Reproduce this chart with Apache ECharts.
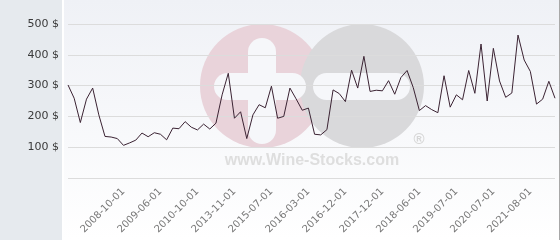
<!DOCTYPE html>
<html><head><meta charset="utf-8">
<script src="https://cdn.jsdelivr.net/npm/echarts@6/dist/echarts.min.js"></script>
<style>html,body{margin:0;padding:0;background:#fff}#c{width:560px;height:240px}</style>
</head><body><div id="c"></div>
<script>
const dates = [
 '2005-10-01','2006-03-01','2006-07-01','2006-12-01','2007-04-01','2007-09-01','2007-12-01','2008-03-01','2008-06-01','2008-10-01',
 '2008-11-01','2008-12-01','2009-02-01','2009-03-01','2009-04-01','2009-06-01','2009-08-01','2009-10-01','2009-12-01','2010-03-01',
 '2010-06-01','2010-10-01','2011-03-01','2011-09-01','2012-03-01','2012-09-01','2013-05-01','2013-11-01','2014-02-01','2014-05-01',
 '2014-09-01','2014-12-01','2015-04-01','2015-07-01','2015-08-01','2015-09-01','2015-11-01','2015-12-01','2016-02-01','2016-03-01',
 '2016-04-01','2016-06-01','2016-07-01','2016-09-01','2016-10-01','2016-12-01','2017-02-01','2017-04-01','2017-06-01','2017-08-01',
 '2017-10-01','2017-12-01','2018-01-01','2018-02-01','2018-03-01','2018-04-01','2018-05-01','2018-06-01','2018-08-01','2018-10-01',
 '2018-12-01','2019-02-01','2019-04-01','2019-07-01','2019-09-01','2019-11-01','2020-01-01','2020-03-01','2020-05-01','2020-07-01',
 '2020-09-01','2020-11-01','2021-01-01','2021-03-01','2021-05-01','2021-08-01','2021-10-01','2021-12-01','2022-02-01','2022-04-01'
];
const prices = [
 302,259,180,256,292,205,135,133,128,106,
 114,123,146,134,147,142,124,162,160,183,
 165,156,175,159,178,270,340,194,215,128,
 205,238,228,298,194,200,292,257,220,227,
 142,140,157,286,274,248,350,292,395,281,
 285,283,316,272,326,349,294,219,235,222,
 212,332,230,270,254,349,275,435,250,421,
 315,262,276,464,383,346,240,256,314,259
];
const tickLabels = ['2008-10-01','2009-06-01','2010-10-01','2013-11-01','2015-07-01','2016-03-01',
 '2016-12-01','2017-12-01','2018-06-01','2019-07-01','2020-07-01','2021-08-01'];
const yMin = 0, yMax = 500, yStep = 100;

const chart = echarts.init(document.getElementById('c'), null, {renderer:'canvas'});
const wm = [
  {type:'rect', z:-20, shape:{x:0,y:0,width:62,height:240}, style:{fill:'#e6eaee'}},
  {type:'rect', z:-20, shape:{x:64,y:0,width:495,height:240},
   style:{fill:new echarts.graphic.LinearGradient(0,0,0,1,[{offset:0,color:'#eff1f6'},{offset:1,color:'#ffffff'}])}},
  {type:'rect', z:-20, shape:{x:559,y:0,width:1,height:240}, style:{fill:'#a8a8a8'}},
  {type:'circle', z:-10, shape:{cx:262,cy:86,r:62}, style:{fill:'#e9d3da'}},
  {type:'circle', z:-10, shape:{cx:362,cy:86,r:62}, style:{fill:'#d9d9db'}},
  {type:'rect', z:-9, shape:{x:248,y:38,width:28,height:106,r:14}, style:{fill:'#f6f7fa'}},
  {type:'rect', z:-9, shape:{x:214,y:73,width:92,height:27,r:13.5}, style:{fill:'#f6f7fa'}},
  {type:'rect', z:-9, shape:{x:313,y:73,width:97,height:27,r:13.5}, style:{fill:'#f6f7fa'}},
  {type:'text', z:-9, style:{x:419,y:140,text:'®',fill:'#d6d6d6',font:'bold 15px "Liberation Sans", Arial',textAlign:'center',textVerticalAlign:'middle'}},
  {type:'text', z:-9, style:{x:312,y:161,text:'www.Wine-Stocks.com',fill:'#dedede',font:'bold 16px "Liberation Sans", Arial',textAlign:'center',textVerticalAlign:'middle'}}
];
chart.setOption({
  animation:false,
  backgroundColor:'#ffffff',
  graphic: wm,
  grid:{left:68,right:5,top:24,bottom:62,containLabel:false},
  xAxis:{
    type:'category', data:dates, boundaryGap:false,
    axisLine:{show:false}, axisTick:{show:false},
    axisLabel:{
      interval:(i,v)=>tickLabels.includes(v),
      rotate:45, margin:12, color:'#777',
      fontFamily:'DejaVu Sans', fontSize:10
    },
    splitLine:{show:false}
  },
  yAxis:{
    type:'value', min:yMin, max:yMax, interval:yStep,
    axisLine:{show:false}, axisTick:{show:false},
    axisLabel:{formatter:'{value} $', margin:9, color:'#3a3a3a', fontFamily:'DejaVu Sans', fontSize:11,
      showMinLabel:false},
    splitLine:{lineStyle:{color:'#dcdcdc',width:1}}
  },
  series:[{
    type:'line', data:prices, showSymbol:false, symbol:'none',
    lineStyle:{color:'#3b2333', width:1}, z:5
  }]
});
</script></body></html>
